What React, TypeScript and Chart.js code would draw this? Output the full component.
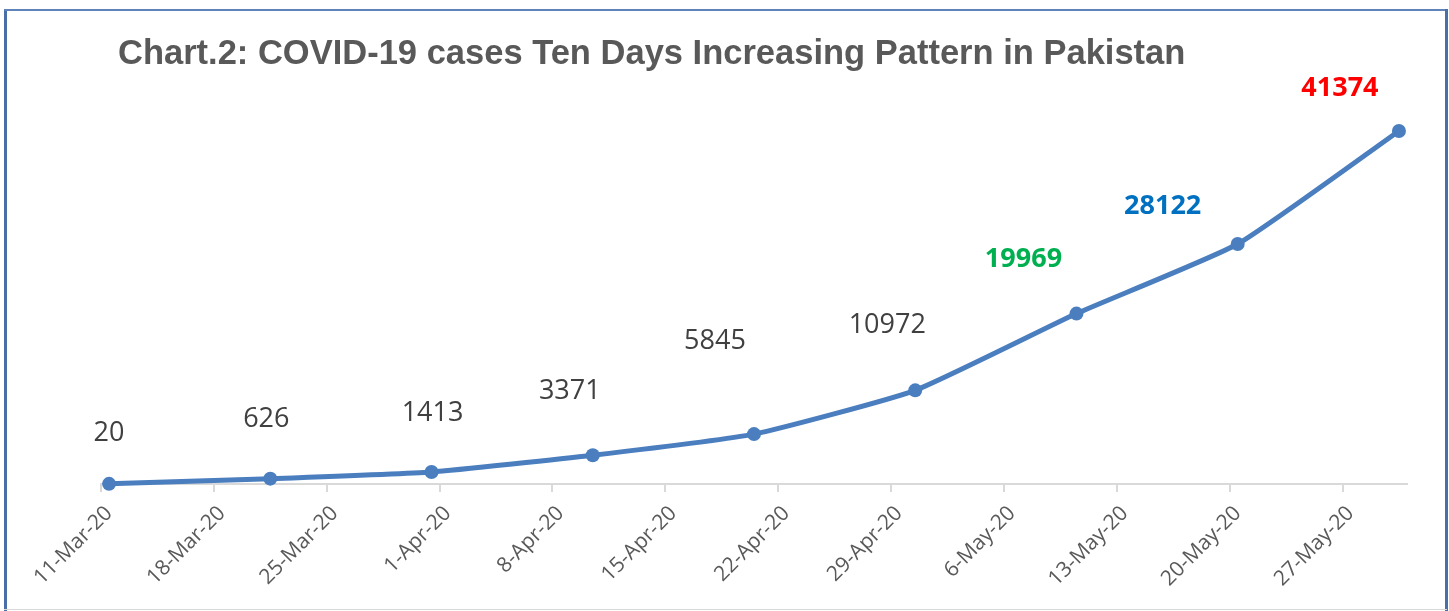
import React, { useEffect, useRef } from 'react';
import { Chart, registerables } from 'chart.js';

Chart.register(...registerables);

const TITLE = 'Chart.2: COVID-19 cases Ten Days Increasing Pattern in Pakistan';
const pointDates = ['11-Mar-20', '21-Mar-20', '31-Mar-20', '10-Apr-20', '20-Apr-20', '30-Apr-20', '10-May-20', '20-May-20', '30-May-20'];
const cases = [20, 626, 1413, 3371, 5845, 10972, 19969, 28122, 41374];
const tickDates = ['11-Mar-20', '18-Mar-20', '25-Mar-20', '1-Apr-20', '8-Apr-20', '15-Apr-20', '22-Apr-20', '29-Apr-20', '6-May-20', '13-May-20', '20-May-20', '27-May-20'];

// label styling (not data)
const labelColors = ['#404040', '#404040', '#404040', '#404040', '#404040', '#404040', '#00B050', '#0070C0', '#FF0000'];
const labelBold = [false, false, false, false, false, false, true, true, true];
const labelOffsets: [number, number][] = [[0, -52], [-4, -61], [1, -61], [-23, -66], [-39, -95], [-28, -67], [-53, -56], [-75, -40], [-59, -45]];

const MONTHS: Record<string, number> = { Jan: 0, Feb: 1, Mar: 2, Apr: 3, May: 4, Jun: 5, Jul: 6, Aug: 7, Sep: 8, Oct: 9, Nov: 10, Dec: 11 };
const BASE = Date.UTC(2020, 2, 11);
function dayIndex(s: string): number {
  const [d, m, y] = s.split('-');
  return Math.round((Date.UTC(2000 + Number(y), MONTHS[m], Number(d)) - BASE) / 86400000);
}
const tickValues = tickDates.map(dayIndex);
const tickLabelMap: Record<number, string> = {};
tickDates.forEach((t) => { tickLabelMap[dayIndex(t)] = t; });
const points = pointDates.map((d, i) => ({ x: dayIndex(d), y: cases[i] }));
const xMin = -0.5;
const xMax = dayIndex(pointDates[pointDates.length - 1]) + 0.5;

const W = 1449;
const H = 611;
const AXIS_Y = 484;

const decorPlugin = {
  id: 'decor',
  beforeDraw(chart: any) {
    const ctx = chart.ctx;
    ctx.save();
    ctx.fillStyle = '#ffffff';
    ctx.fillRect(0, 0, W, H);
    // frame
    ctx.fillStyle = '#4A6FA8';
    ctx.fillRect(4, 9, 3, H - 9);
    ctx.fillStyle = '#5F82B8';
    ctx.fillRect(4, 9, W - 6, 2);
    ctx.fillStyle = '#4A6FA8';
    ctx.fillRect(W - 4, 9, 3, H - 9);
    ctx.fillStyle = '#D9D9D9';
    ctx.fillRect(4, H - 2, W - 6, 1);
    // title
    ctx.fillStyle = '#595959';
    ctx.font = 'bold 34.5px "Liberation Sans", Arial, sans-serif';
    ctx.textAlign = 'left';
    ctx.textBaseline = 'alphabetic';
    ctx.fillText(TITLE, 118, 64);
    ctx.restore();
  },
  afterDraw(chart: any) {
    const ctx = chart.ctx;
    const xs = chart.scales.x;
    const bottom = chart.chartArea.bottom;
    ctx.save();
    ctx.strokeStyle = '#D9D9D9';
    ctx.lineWidth = 2;
    tickValues.forEach((v) => {
      const px = Math.round(xs.getPixelForValue(v - 0.5));
      ctx.beginPath();
      ctx.moveTo(px, bottom);
      ctx.lineTo(px, bottom + 8);
      ctx.stroke();
    });
    ctx.restore();
  },
  afterDatasetsDraw(chart: any) {
    const ctx = chart.ctx;
    const meta = chart.getDatasetMeta(0);
    ctx.save();
    ctx.textAlign = 'center';
    ctx.textBaseline = 'alphabetic';
    meta.data.forEach((pt: any, i: number) => {
      const size = 27;
      ctx.font = (labelBold[i] ? 'bold ' : '') + size + 'px "Open Sans", sans-serif';
      ctx.fillStyle = labelColors[i];
      const [dx, dy] = labelOffsets[i];
      ctx.fillText(String(cases[i]), pt.x + dx, pt.y + dy + size * 0.357);
    });
    ctx.restore();
  },
};

export default function App() {
  const ref = useRef<HTMLCanvasElement | null>(null);
  useEffect(() => {
    document.body.style.margin = '0';
    const canvas = ref.current!;
    const chart = new Chart(canvas, {
      type: 'line',
      data: {
        datasets: [
          {
            data: points,
            borderColor: '#4A7EBF',
            backgroundColor: '#4A7EBF',
            borderWidth: 5,
            pointRadius: 7,
            pointBorderWidth: 0,
            pointBackgroundColor: '#4A7EBF',
            tension: 0.15,
            fill: false,
            clip: false,
          },
        ],
      },
      options: {
        animation: false,
        responsive: false,
        devicePixelRatio: 1,
        layout: { padding: { top: 100, left: 101, right: 42, bottom: 0 } },
        plugins: { legend: { display: false }, title: { display: false }, tooltip: { enabled: false } },
        scales: {
          x: {
            type: 'linear',
            min: xMin,
            max: xMax,
            grid: { display: false, drawTicks: false },
            border: { display: true, color: '#D9D9D9', width: 2 },
            afterBuildTicks: (scale: any) => {
              scale.ticks = tickValues.map((v) => ({ value: v }));
            },
            afterFit: (scale: any) => {
              scale.height = H - AXIS_Y;
            },
            ticks: {
              autoSkip: false,
              minRotation: 45,
              maxRotation: 45,
              padding: 17,
              color: '#595959',
              font: { family: '"Open Sans", sans-serif', size: 21 },
              callback: (v: any) => tickLabelMap[Number(v)] ?? '',
            },
          },
          y: {
            display: false,
            min: 0,
            max: 45000,
          },
        },
      },
      plugins: [decorPlugin],
    });
    return () => chart.destroy();
  }, []);
  return (
    <div style={{ width: W, height: H }}>
      <canvas ref={ref} width={W} height={H} style={{ display: 'block', width: W, height: H }} />
    </div>
  );
}
